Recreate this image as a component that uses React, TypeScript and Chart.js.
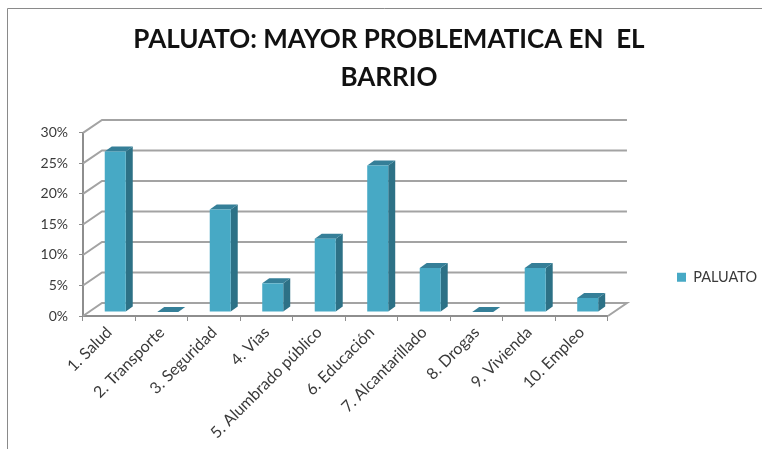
import { useEffect, useRef } from "react";
import { Chart, registerables } from "chart.js";

Chart.register(...registerables);

const categories = [
  "1. Salud",
  "2. Transporte",
  "3. Seguridad",
  "4. Vias",
  "5. Alumbrado público",
  "6. Educación",
  "7. Alcantarillado",
  "8. Drogas",
  "9. Vivienda",
  "10. Empleo",
];
const paluato = [26.3, 0, 16.8, 4.7, 12, 24, 7.2, 0, 7.2, 2.3];
const titleLines = ["PALUATO: MAYOR PROBLEMATICA EN  EL", "BARRIO"];
const seriesName = "PALUATO";

const FRONT = "#47a9c5";
const SIDE = "#2d7186";
const TOP = "#357f98";
const AXIS = "#8e8e8e";
const GRID = "#a3a3a3";
const TEXT = "#3a3a3a";
const WALL_DX = 19;
const WALL_DY = -13;
const BAR_DX = 6;
const BAR_DY = -4;
const BAR_SIDE_DX = 7;
const BAR_SIDE_DY = -5;
const LEGEND_PAD = 50;

const wall3d = {
  id: "wall3d",
  beforeDraw(chart: any) {
    const { ctx, width, height } = chart;
    ctx.save();
    ctx.fillStyle = "#ffffff";
    ctx.fillRect(0, 0, width, height);
    ctx.strokeStyle = "#8a8a8a";
    ctx.lineWidth = 1;
    ctx.beginPath();
    ctx.moveTo(7.5, height);
    ctx.lineTo(7.5, 8.5);
    ctx.lineTo(width, 8.5);
    ctx.stroke();
    ctx.restore();
  },
  beforeDatasetsDraw(chart: any) {
    const { ctx } = chart;
    const y = chart.scales.y;
    const x = chart.scales.x;
    const L = x.left;
    const R = x.right;
    ctx.save();
    ctx.strokeStyle = GRID;
    ctx.lineWidth = 2;
    y.ticks.forEach((t: any) => {
      const py = y.getPixelForValue(t.value);
      ctx.beginPath();
      ctx.moveTo(L, py);
      ctx.lineTo(L + WALL_DX, py + WALL_DY);
      ctx.lineTo(R + WALL_DX, py + WALL_DY);
      if (t.value === 0) ctx.lineTo(R, py);
      ctx.stroke();
    });
    ctx.restore();
  },
  beforeDatasetDraw(chart: any, args: any) {
    const { ctx } = chart;
    const meta = chart.getDatasetMeta(args.index);
    ctx.save();
    ctx.translate(BAR_DX, BAR_DY);
    meta.data.forEach((bar: any) => {
      const { x, y, base, width } = bar.getProps(["x", "y", "base", "width"]);
      const l = x - width / 2;
      const r = x + width / 2;
      ctx.fillStyle = SIDE;
      ctx.beginPath();
      ctx.moveTo(r, y);
      ctx.lineTo(r + BAR_SIDE_DX, y + BAR_SIDE_DY);
      ctx.lineTo(r + BAR_SIDE_DX, base + BAR_SIDE_DY);
      ctx.lineTo(r, base);
      ctx.closePath();
      ctx.fill();
      ctx.fillStyle = TOP;
      ctx.beginPath();
      ctx.moveTo(l, y);
      ctx.lineTo(l + BAR_SIDE_DX, y + BAR_SIDE_DY);
      ctx.lineTo(r + BAR_SIDE_DX, y + BAR_SIDE_DY);
      ctx.lineTo(r, y);
      ctx.closePath();
      ctx.fill();
    });
  },
  afterDatasetDraw(chart: any) {
    chart.ctx.restore();
  },
  afterLayout(chart: any) {
    const lg = chart.legend;
    if (lg) {
      lg.left = 677 - LEGEND_PAD;
      lg.right = 762;
      lg.top = 270 - LEGEND_PAD;
      lg.bottom = 300;
    }
  },
};

export default function App() {
  const ref = useRef<HTMLCanvasElement>(null);
  useEffect(() => {
    const chart = new Chart(ref.current!, {
      type: "bar",
      data: {
        labels: categories,
        datasets: [
          {
            label: seriesName,
            data: paluato,
            backgroundColor: FRONT,
            barPercentage: 0.4,
            categoryPercentage: 1,
          },
        ],
      },
      plugins: [wall3d],
      options: {
        responsive: false,
        animation: false,
        layout: { padding: { top: 21, left: 30, right: 14, bottom: 0 } },
        plugins: {
          tooltip: { enabled: false },
          title: {
            display: true,
            text: titleLines,
            color: "#111111",
            font: { family: "Lato", size: 26, weight: "bold", lineHeight: 1.46 },
            padding: { top: 0, bottom: 36 },
          },
          legend: {
            display: true,
            position: "right",
            align: "start",
            labels: {
              boxWidth: 9,
              boxHeight: 9,
              padding: LEGEND_PAD,
              color: TEXT,
              font: { family: "Lato", size: 14.5 },
            },
          },
        },
        scales: {
          x: {
            border: { color: AXIS, width: 2 },
            grid: { drawOnChartArea: false, drawTicks: true, tickLength: 5, color: AXIS },
            ticks: {
              color: TEXT,
              font: { family: "Lato", size: 16 },
              maxRotation: 45,
              minRotation: 45,
              autoSkip: false,
              padding: 2,
            },
            afterFit(s: any) {
              s.height = 133;
            },
          },
          y: {
            min: 0,
            max: 30,
            border: { color: AXIS, width: 2 },
            grid: { drawOnChartArea: false, drawTicks: true, tickLength: 4, color: AXIS },
            ticks: {
              stepSize: 5,
              color: TEXT,
              font: { family: "Lato", size: 14 },
              padding: 11,
              callback: (v: any) => v + "%",
            },
            afterFit(s: any) {
              s.width = 53;
            },
          },
        },
      },
    } as any);
    return () => chart.destroy();
  }, []);
  return (
    <div style={{ position: "absolute", left: 0, top: 0, width: 762, height: 449 }}>
      <canvas ref={ref} width={762} height={449} style={{ display: "block" }} />
    </div>
  );
}
